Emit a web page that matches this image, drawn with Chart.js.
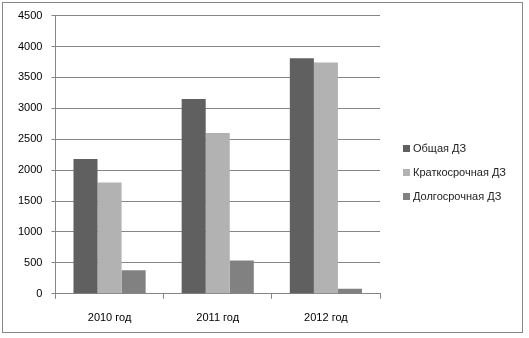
<!DOCTYPE html>
<html>
<head>
<meta charset="utf-8">
<script src="https://cdn.jsdelivr.net/npm/chart.js@4/dist/chart.umd.min.js"></script>
<style>
  html, body { margin: 0; padding: 0; background: #fff; }
  #wrap { position: relative; width: 529px; height: 338px; }
  #frame { position: absolute; left: 2px; top: 2px; width: 521px; height: 331px; border: 1px solid #868686; box-sizing: border-box; pointer-events: none; }
</style>
</head>
<body>
<div id="wrap">
  <canvas id="chart" width="529" height="338"></canvas>
  <div id="frame"></div>
</div>
<script>
const years = ['2010 год', '2011 год', '2012 год'];
const seriesNames = ['Общая ДЗ', 'Краткосрочная ДЗ', 'Долгосрочная ДЗ'];
const totalDebt = [2180, 3150, 3810];
const shortDebt = [1800, 2600, 3740];
const longDebt = [380, 540, 80];
const seriesColors = ['#606060', '#b2b2b2', '#818181'];

const font = { family: "'Liberation Sans', Arial, sans-serif", size: 11 };

// legend to the right of the plot, vertically centred on it
const sideLegend = {
    id: 'sideLegend',
    afterDraw(chart) {
        const { ctx, chartArea } = chart;
        const x = chartArea.right + 23;
        const step = 24;
        const midY = (chartArea.top + chartArea.bottom) / 2 + 18;
        const sets = chart.data.datasets;
        ctx.save();
        ctx.font = `${font.size}px ${font.family}`;
        ctx.textBaseline = 'middle';
        sets.forEach((ds, i) => {
            const y = Math.round(midY + (i - (sets.length - 1) / 2) * step);
            ctx.fillStyle = ds.backgroundColor;
            ctx.fillRect(x, y - 4, 7, 7);
            ctx.fillStyle = '#222';
            ctx.fillText(ds.label, x + 10, y);
        });
        ctx.restore();
    }
};

new Chart(document.getElementById('chart'), {
    type: 'bar',
    data: {
        labels: years,
        datasets: [totalDebt, shortDebt, longDebt].map((values, i) => ({
            label: seriesNames[i],
            data: values,
            backgroundColor: seriesColors[i],
            borderWidth: 0,
            categoryPercentage: 0.667,
            barPercentage: 1.0
        }))
    },
    options: {
        responsive: false,
        animation: false,
        layout: { padding: { top: 9, left: 9, right: 149, bottom: 0 } },
        scales: {
            x: {
                grid: { display: true, drawOnChartArea: false, drawTicks: true, tickLength: 5, color: '#868686', offset: true },
                border: { color: '#868686' },
                ticks: { color: '#000', font: font, padding: 13 }
            },
            y: {
                min: 0,
                max: 4500,
                ticks: { stepSize: 500, color: '#000', font: font, padding: 9, callback: v => String(v) },
                grid: { color: '#868686', tickLength: 4 },
                border: { color: '#868686' }
            }
        },
        plugins: {
            legend: { display: false },
            tooltip: { enabled: false }
        }
    },
    plugins: [sideLegend]
});
</script>
</body>
</html>
